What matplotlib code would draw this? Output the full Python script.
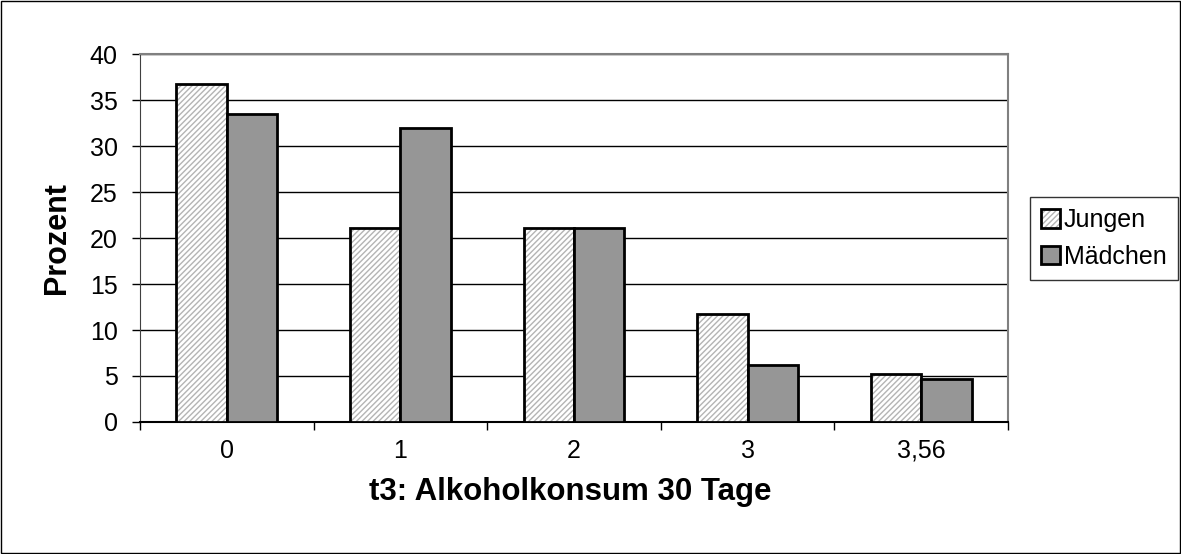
import matplotlib
matplotlib.use("Agg")
import matplotlib.pyplot as plt
import numpy as np

categories = ["0", "1", "2", "3", "3,56"]
jungen = [36.8, 21.1, 21.1, 11.7, 5.2]
maedchen = [33.5, 32.0, 21.1, 6.2, 4.7]

plt.rcParams["font.family"] = ["Liberation Sans", "DejaVu Sans"]
plt.rcParams["hatch.linewidth"] = 1.0

fig = plt.figure(figsize=(11.81, 5.54), dpi=100)
ax = fig.add_axes([0.1185, 0.2383, 0.735, 0.664])

x = np.arange(len(categories))
w = 0.29

# hatched fill (hatch colour follows edgecolor, so draw outline separately)
hj = ax.bar(x - w / 2, jungen, w, color="white", edgecolor="#b4b4b4",
            hatch="//////", linewidth=0, zorder=3)
oj = ax.bar(x - w / 2, jungen, w, fill=False, edgecolor="black",
            linewidth=2, zorder=4)
om = ax.bar(x + w / 2, maedchen, w, color="#969696", edgecolor="black",
            linewidth=2, zorder=4)

ax.set_xlim(-0.5, len(categories) - 0.5)
ax.set_ylim(0, 40)
ax.set_yticks(range(0, 41, 5))
ax.yaxis.grid(True, color="black", linewidth=1)
ax.set_axisbelow(True)

ax.set_xticks(x)
ax.set_xticklabels(categories, fontsize=18)
ax.set_xticks(np.arange(len(categories) + 1) - 0.5, minor=True)
ax.tick_params(axis="x", which="major", length=0, pad=12)
ax.tick_params(axis="x", which="minor", length=6, width=1, direction="out")
ax.tick_params(axis="y", labelsize=18, length=6, width=1, direction="out",
               pad=10)

for side in ["top", "right"]:
    ax.spines[side].set_color("#808080")
    ax.spines[side].set_linewidth(1.5)
ax.spines["left"].set_color("#404040")
ax.spines["bottom"].set_color("black")
ax.spines["bottom"].set_linewidth(1.5)

fig.text(57 / 1181, 1 - 238 / 554, "Prozent", fontsize=22,
         fontweight="bold", rotation=90, ha="center", va="center")
fig.text(570 / 1181, 1 - 492 / 554, "t3: Alkoholkonsum 30 Tage",
         fontsize=22.5, fontweight="bold", ha="center", va="center")

leg = fig.legend([(hj[0], oj[0]), om[0]], ["Jungen", "Mädchen"],
                 loc="upper left", bbox_to_anchor=(1030 / 1181, 1 - 197 / 554),
                 fontsize=18, frameon=True, fancybox=False,
                 handlelength=0.75, handleheight=0.75, handletextpad=0.15,
                 borderpad=0.45, labelspacing=0.5, borderaxespad=0)
leg.get_frame().set_edgecolor("black")
leg.get_frame().set_linewidth(1)

# outer chart border
fig.patches.append(plt.Rectangle((0.001, 0.001), 0.998, 0.997,
                                 transform=fig.transFigure, fill=False,
                                 edgecolor="black", linewidth=1))

fig.savefig("out.png", dpi=100)
